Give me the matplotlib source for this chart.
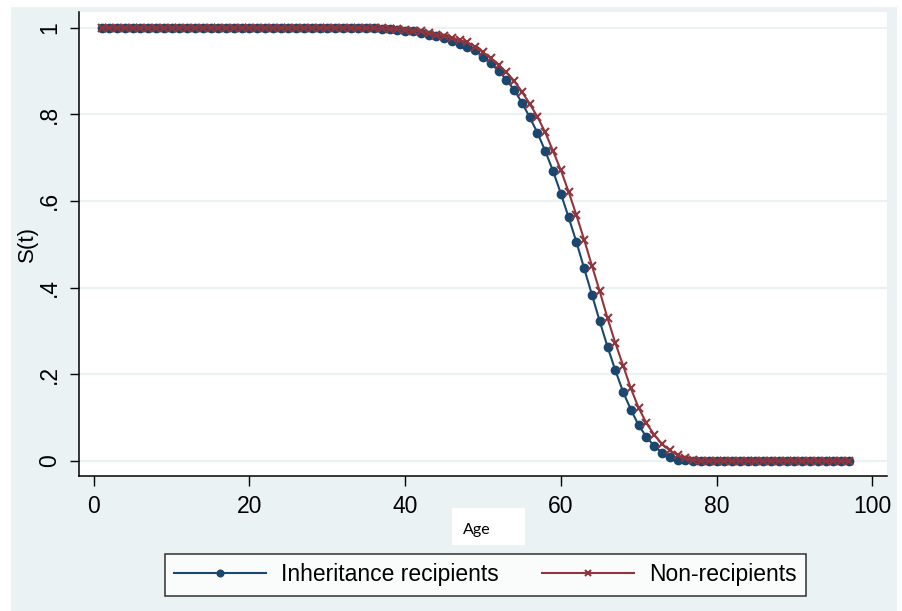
import matplotlib.pyplot as plt
from matplotlib.patches import Rectangle

plt.rcParams['font.family'] = ['Liberation Sans', 'DejaVu Sans']

# ages 1..97
ages = list(range(1, 98))

# S(t), inheritance recipients
recipients = [
    1.0, 1.0, 1.0, 1.0, 1.0, 1.0, 1.0, 1.0, 1.0, 1.0,
    1.0, 1.0, 1.0, 1.0, 1.0, 1.0, 1.0, 1.0, 1.0, 1.0,
    1.0, 1.0, 1.0, 1.0, 1.0, 1.0, 1.0, 1.0, 1.0, 1.0,
    1.0, 1.0, 0.9995, 0.999, 0.9985,
    0.998, 0.997, 0.996, 0.995, 0.993, 0.991, 0.988, 0.984, 0.980, 0.975,
    0.969, 0.963, 0.956, 0.948, 0.933, 0.919, 0.900, 0.880, 0.856, 0.827,
    0.793, 0.757, 0.715, 0.669, 0.617, 0.562, 0.505, 0.444, 0.383, 0.322,
    0.263, 0.209, 0.159, 0.118, 0.082, 0.055, 0.034, 0.019, 0.009, 0.003,
    0.001, 0.0, 0.0, 0.0, 0.0, 0.0, 0.0, 0.0, 0.0, 0.0,
    0.0, 0.0, 0.0, 0.0, 0.0, 0.0, 0.0, 0.0, 0.0, 0.0,
    0.0, 0.0,
]

# S(t), non-recipients
non_recipients = [
    1.0, 1.0, 1.0, 1.0, 1.0, 1.0, 1.0, 1.0, 1.0, 1.0,
    1.0, 1.0, 1.0, 1.0, 1.0, 1.0, 1.0, 1.0, 1.0, 1.0,
    1.0, 1.0, 1.0, 1.0, 1.0, 1.0, 1.0, 1.0, 1.0, 1.0,
    1.0, 1.0, 1.0, 0.9995, 0.999,
    0.9985, 0.998, 0.997, 0.996, 0.995, 0.993, 0.991, 0.988, 0.984, 0.980,
    0.976, 0.971, 0.966, 0.956, 0.943, 0.929, 0.913, 0.897, 0.877, 0.852,
    0.824, 0.794, 0.758, 0.715, 0.671, 0.621, 0.567, 0.510, 0.450, 0.391,
    0.329, 0.272, 0.220, 0.167, 0.122, 0.087, 0.060, 0.039, 0.024, 0.013,
    0.006, 0.002, 0.0005, 0.0, 0.0, 0.0, 0.0, 0.0, 0.0, 0.0,
    0.0, 0.0, 0.0, 0.0, 0.0, 0.0, 0.0, 0.0, 0.0, 0.0,
    0.0, 0.0,
]

x_ticks = [0, 20, 40, 60, 80, 100]
y_ticks = [0, 0.2, 0.4, 0.6, 0.8, 1.0]
y_ticklabels = ['0', '.2', '.4', '.6', '.8', '1']

BLUE = '#1a476f'
RED = '#90353b'
BG = '#eaf2f3'
W, H = 902, 611

fig = plt.figure(figsize=(W / 100, H / 100), dpi=100)
fig.patch.set_facecolor('white')

# stata-like outer region
fig.add_artist(Rectangle((11 / W, 0), (897 - 11) / W, (H - 7) / H,
                         transform=fig.transFigure, facecolor=BG,
                         edgecolor='none', zorder=0))

ax = fig.add_axes([79 / W, 1 - 476 / H, (887 - 79) / W, (476 - 12) / H])
ax.set_facecolor('white')

ax.plot(ages, recipients, color=BLUE, lw=1.5, marker='o', ms=6,
        mec=BLUE, mfc=BLUE, label='Inheritance recipients', zorder=3)
ax.plot(ages, non_recipients, color=RED, lw=1.5, marker='x', ms=6,
        mew=1.5, label='Non-recipients', zorder=4)

ax.set_xlim(-1.9, 101.9)
ax.set_ylim(-0.035, 1.036)
ax.set_xticks(x_ticks)
ax.set_yticks(y_ticks)
ax.set_yticklabels(y_ticklabels)
ax.tick_params(axis='x', length=7.5, width=1, pad=6.5, labelsize=16.5)
ax.tick_params(axis='y', length=6.5, width=1, pad=6.5, labelsize=16.5)
plt.setp(ax.get_yticklabels(), rotation=90, va='center')

ax.grid(axis='y', color=BG, lw=1.6)
ax.set_axisbelow(True)
for s in ['top', 'right']:
    ax.spines[s].set_visible(False)
for s in ['left', 'bottom']:
    ax.spines[s].set_linewidth(1.1)

fig.text(27 / W, 1 - 244 / H, 'S(t)', rotation=90, ha='center',
         va='center', fontsize=16)

# x title sits on its own white box
fig.add_artist(Rectangle((452 / W, 1 - 545 / H), 73 / W, 37 / H,
                         transform=fig.transFigure, facecolor='white',
                         edgecolor='none', zorder=1))
fig.text(477 / W, 1 - 530 / H, 'Age', ha='center', va='center',
         fontsize=11.5, family=['Lato', 'DejaVu Sans'], zorder=2)

leg = fig.legend(loc='center', bbox_to_anchor=(485.5 / W, 1 - 575 / H),
                 ncol=2, fontsize=16.5, frameon=True, fancybox=False,
                 edgecolor='black', handlelength=4.0, handletextpad=0.65,
                 columnspacing=1.9, borderpad=0.4, markerscale=0.8)
leg.get_frame().set_linewidth(1.1)

fig.savefig('out.png', dpi=100)
